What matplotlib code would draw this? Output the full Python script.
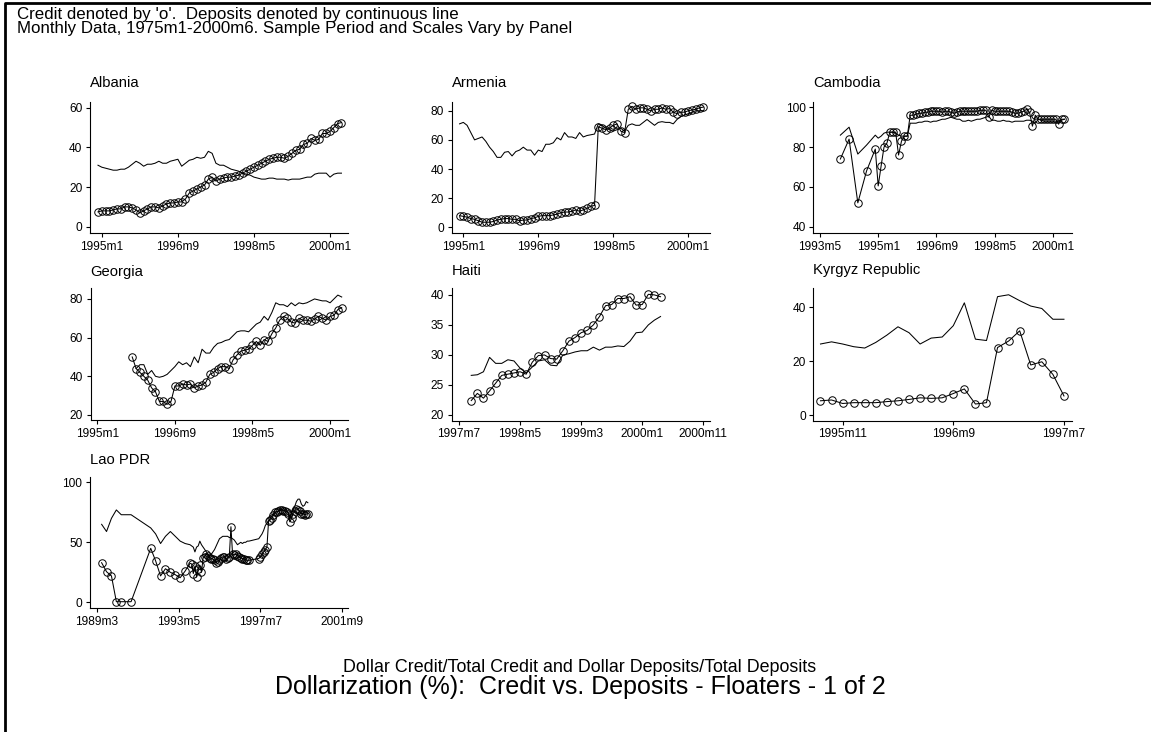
import numpy as np
import matplotlib.pyplot as plt
from matplotlib.lines import Line2D

plt.rcParams['font.family'] = ['Liberation Sans', 'DejaVu Sans']


def ym(s):
    y, m = s.split('m')
    return int(y) * 12 + int(m) - 1


def monthly(start, vals):
    x = np.arange(len(vals)) + ym(start)
    v = np.array([np.nan if a is None else a for a in vals], dtype=float)
    return x, v


# ---- data ----
alb_start = '1994m12'
alb_credit = [7.5,
              8, 8, 8, 8.5, 9, 9, 10, 10, 9.5, 8.5, 7, 8,
              9, 10, 10, 9.5, 10.5, 11.5, 12, 12, 12.5, 12.5, 14, 17,
              18, 19, 20, 21, 24, 25, 23, 24, 24.5, 25, 25, 25.5,
              26, 27, 28, 29, 30, 31, 32, 33, 34, 34.5, 35, 35,
              34.5, 35.5, 37, 38.5, 39, 41.5, 42, 44.5, 43.5, 44, 47, 47,
              48, 50, 52, 52.5]
alb_deposits = [31,
                30, 29.5, 29, 28.5, 28.5, 29, 29, 30, 31.5, 33, 32, 30.5,
                31.5, 31.5, 32, 33, 32, 32, 33, 33.5, 34, 30.5, 32, 33.5,
                34, 35, 34.5, 35, 38, 37, 32, 31, 31, 30, 29, 28.5,
                28, 27, 26.5, 26, 25, 24.5, 24, 24, 24.5, 24.5, 24, 24,
                24, 23.5, 24, 24, 24, 24.5, 25, 25, 26.5, 27, 27, 27,
                25, 26.5, 27, 27]

arm_start = '1994m12'
arm_credit = [8,
              7.5, 7, 6, 5.5, 4.5, 3.5, 3.5, 3.5, 4, 5, 5.5, 6,
              6, 5.5, 5.5, 4.5, 5, 5, 6, 6.5, 7.5, 8, 8, 8,
              8.5, 9, 10, 10.5, 10.5, 11, 12, 11, 12, 13, 14.5, 15,
              69, 68, 67, 68, 70, 71, 66, 65, 81, 83, 81, 82,
              82, 81, 80, 81, 81, 82, 81, 81.5, 79, 78, 79, 79,
              80, 80.5, 81, 82, 82.5]
arm_deposits = [71,
                72, 70, 65, 60, 61, 62, 59, 55, 52, 48, 48, 51.5,
                52, 49, 52, 53, 55, 53, 53, 49.5, 53, 52, 57, 57,
                58, 61.5, 60, 65, 62, 62, 61, 65, 62, 63, 63.5, 64,
                71, 70, 68, 67, 66, 67, 68, 66, 70, 71, 70, 70,
                72, 74, 72, 70, 72, 72.5, 72, 72, 71, 74, 76, 77,
                78, 79, 80, 80, 80]

cam_early_dates = ['1993m12', '1994m3', '1994m6', '1994m9', '1994m12']
cam_early_credit = [74, 84, 52, 68, 79]
cam_early_deposits = [86, 90, 76.5, 81, 86]
cam_start = '1995m1'
cam_credit = [60.5, 70.5, 80, 82, 87.5, 87.5, 87.5, 76, 83, 85.5, 85.5, 96,
              96, 96.5, 97, 97, 97.5, 97.5, 98, 98, 98, 98, 97.5, 98,
              98, 97.5, 97, 97.5, 98, 98, 98, 98, 98, 98, 98, 98.5,
              98.5, 98.5, 95, 98.5, 98, 98, 98, 98, 98, 98, 97.5, 97,
              97, 97.5, 98, 99, 97.5, 90.5, 96, 94, 94, 94, 94, 94,
              94, 94, 91.5, 94, 94]
cam_deposits = [84.5, 85.5, 87, 87.5, 87.5, 87.5, 87, 86, 85.5, 85.5, 85.5, 92,
                92, 92, 92.5, 92.5, 93, 93, 92.5, 93, 93, 93.5, 94, 94,
                94.5, 95, 94.5, 94, 94, 93, 93, 93.5, 93, 93.5, 94, 94,
                94.5, 95, 95.5, 93.5, 93.5, 93, 93, 93.5, 93, 93, 92.5, 93,
                93, 93, 93, 93.5, 93.5, 93, 92, 94, 93.5, 93, 93, 93,
                93, 93, 93, 93.5, 94]

geo_credit_start = '1995m10'
geo_credit = [50, 44, 42,
              40, 38, 34, 32, 27, 27, 25.5, 27, 35, 35, 36, 35.5,
              36, 34, 35, 35.5, 37, 41, 42, 44, 45, 45, 44, 48.5,
              51, 53, 53.5, 54, 56, 58, 56, 59, 58, 62, 65, 69,
              71, 70, 68, 67.5, 70, 69, 69, 68.5, 69.5, 71, 70, 69,
              71, 71.5, 74.5, 75.5]
geo_deposits_start = '1995m11'
geo_deposits = [44, 46,
                46, 41, 43, 40, 39.5, 40, 41, 43, 45, 47.5, 46, 47,
                45, 50, 47, 54, 52, 52, 55, 57, 57.5, 58.5, 59, 61,
                63, 63.5, 63.5, 63, 65, 67, 68, 71, 69, 73, 78, 77,
                77, 76, 78, 76.5, 78, 77.5, 78, 79, 80, 79.5, 79, 79,
                78, 80, 82, 81]

hai_start = '1997m9'
hai_credit = [22.4, 23.6, 22.8, 24, 25.3, 26.6, 26.8, 27, 27.2, 26.8, 28.8, 29.9,
              30, 29.4, 29.3, 30.7, 32.3, 32.9, 33.7, 34.1, 35, 36.4, 38.2, 38.4,
              39.4, 39.4, 39.7, 38.3, 38.4, 40.1, 40, 39.7]
hai_deposits = [26.6, 26.7, 27.2, 29.6, 28.6, 28.6, 29.2, 29.0, 27.8, 27.0, 28.0, 29.0,
                29.2, 28.3, 28.2, 30.0, 30.2, 30.5, 30.7, 30.7, 31.3, 30.8, 31.3, 31.3,
                31.5, 31.4, 32.3, 33.7, 33.8, 35.0, 35.8, 36.4]

kgz_start = '1995m9'
kgz_credit = [5.3, 5.6, 4.3, 4.6, 4.6, 4.6, 5.0, 5.3, 5.8, 6.4, 6.2, 6.4,
              8.0, 9.7, 4.1, 4.6, 25.1, 27.5, 31.3, 18.6, 19.8, 15.1, 7.1]
kgz_deposits = [26.4, 27.2, 26.4, 25.4, 24.9, 27.0, 29.7, 32.8, 30.6, 26.4, 28.6, 29.0,
                33.2, 41.7, 28.2, 27.7, 44.0, 44.7, 42.5, 40.5, 39.6, 35.6, 35.6]

lao_early_dates = ['1989m6', '1989m9', '1989m12', '1990m3', '1990m6', '1990m12',
                   '1991m12', '1992m3', '1992m6', '1992m9', '1992m12', '1993m3',
                   '1993m6', '1993m9', '1993m12']
lao_early_credit = [33, 25.5, 22, 0.5, 0.5, 0.5, 45, 34.5, 22, 28, 25, 23, 20.5, 26, 32.5]
lao_early_deposits = [65, 59, 70, 77, 73, 73, 62, 57, 49, 55, 59, 55, 51, 49, 48]
lao_start = '1994m1'
lao_credit = [32, 24, 30, 21, 28, 31, 25, 37, 38, 40, 39, 37,
              36.5, 36, 35, 33, 34, 35, 37, 38, 38, 36, 37, 38,
              63, 40, 39.5, 40, 39, 38, 37, 36.5, 36, 35.5, 35, 35,
              None, None, None, None, None, 36.5, 38, 40, 42, 44, 46, 68,
              68.5, 70, 73, 75, 75.5, 76, 77, 77, 76.5, 76, 75.5, 74,
              67, 70, 74, 76, 78, 77, 76, 74, 74, 73, 73.5, 74]
lao_deposits = [47, 46, 42, 46, 47, 51, 48, 46, 44, 42, 40, 39,
                40, 42, 44, 47, 50, 53, 54, 55, 55, 55, 55, 54,
                54, 53, 52, 50, 48, 49, 50, 49, 50, 50, 51, 51,
                None, None, None, None, None, 53, 55, 57, 60, 64, 66, 68,
                70, 72, 74, 75, 76, 76, 77, 77, 77, 77, 76, 75,
                70, 74, 77, 80, 84, 86, 86, 82, 80, 81, 84, 83]


def combine(early_dates, early_vals, start, vals):
    x0 = np.array([ym(d) for d in early_dates])
    x1, v1 = monthly(start, vals)
    return np.concatenate([x0, x1]), np.concatenate([np.array(early_vals, float), v1])


panels = [
    # name, credit (x, y), deposits (x, y), xticks, yticks, xlim, ylim, box px (l, r, t, b), title y px
    ('Albania', monthly(alb_start, alb_credit), monthly(alb_start, alb_deposits),
     ['1995m1', '1996m9', '1998m5', '2000m1'], [0, 20, 40, 60],
     ('1995m1', -3.1, 64.8), (-3.3, 63), (90, 348.3, 101.7, 233.3), 83),
    ('Armenia', monthly(arm_start, arm_credit), monthly(arm_start, arm_deposits),
     ['1995m1', '1996m9', '1998m5', '2000m1'], [0, 20, 40, 60, 80],
     ('1995m1', -3.1, 65.8), (-4.1, 86.2), (451.7, 710, 101.7, 233.3), 83),
    ('Cambodia', combine(cam_early_dates, cam_early_credit, cam_start, cam_credit),
     combine(cam_early_dates, cam_early_deposits, cam_start, cam_deposits),
     ['1993m5', '1995m1', '1996m9', '1998m5', '2000m1'], [40, 60, 80, 100],
     ('1993m5', -2.3, 86.5), (36.7, 102.8), (813.3, 1071.7, 101.7, 233.3), 83),
    ('Georgia', monthly(geo_credit_start, geo_credit), monthly(geo_deposits_start, geo_deposits),
     ['1995m1', '1996m9', '1998m5', '2000m1'], [20, 40, 60, 80],
     ('1995m1', -1.7, 64.7), (17.4, 85.5), (90.7, 348.3, 288.3, 420), 271.5),
    ('Haiti', monthly(hai_start, hai_credit), monthly(hai_start, hai_deposits),
     ['1997m7', '1998m5', '1999m3', '2000m1', '2000m11'], [20, 25, 30, 35, 40],
     ('1997m7', -1.2, 41.1), (19.05, 41.1), (451.7, 710, 288.3, 420.7), 271),
    ('Kyrgyz Republic', monthly(kgz_start, kgz_credit), monthly(kgz_start, kgz_deposits),
     ['1995m11', '1996m9', '1997m7'], [0, 20, 40],
     ('1995m11', -2.65, 20.7), (-2.1, 47.1), (813.3, 1071.7, 288.3, 420.7), 270),
    ('Lao PDR', combine(lao_early_dates, lao_early_credit, lao_start, lao_credit),
     combine(lao_early_dates, lao_early_deposits, lao_start, lao_deposits),
     ['1989m3', '1993m5', '1997m7', '2001m9'], [0, 50, 100],
     ('1989m3', -4.1, 153.7), (-5, 104.7), (90, 348.3, 476.7, 608.3), 460),
]

W, H = 1151, 732
fig = plt.figure(figsize=(W / 100, H / 100), dpi=100)
fig.patch.set_facecolor('white')

for name, cred, dep, xt, yt, xl, yl, box, ty in panels:
    l, r, t, b = box
    ax = fig.add_axes([l / W, 1 - b / H, (r - l) / W, (b - t) / H])
    dx, dy = dep
    ok = ~np.isnan(dy)
    ax.plot(dx[ok], dy[ok], color='black', lw=0.75)
    cx, cy = cred
    ok = ~np.isnan(cy)
    ax.plot(cx[ok], cy[ok], color='black', lw=0.75, marker='o', ms=5.4,
            mfc='none', mec='black', mew=0.7)
    base = ym(xl[0])
    ax.set_xlim(base + xl[1], base + xl[2])
    ax.set_ylim(*yl)
    ax.set_xticks([ym(s) for s in xt])
    ax.set_xticklabels(xt)
    ax.set_yticks(yt)
    for s in ['top', 'right']:
        ax.spines[s].set_visible(False)
    for s in ['left', 'bottom']:
        ax.spines[s].set_linewidth(0.8)
    ax.tick_params(direction='out', length=3, width=0.8, labelsize=8.6, pad=2.5)
    fig.text(l / W, 1 - ty / H, name, ha='left', va='center', fontsize=10.6)

fig.text(17 / W, 1 - 14 / H, "Credit denoted by 'o'.  Deposits denoted by continuous line",
         ha='left', va='center', fontsize=12.2)
fig.text(17 / W, 1 - 28 / H, "Monthly Data, 1975m1-2000m6. Sample Period and Scales Vary by Panel",
         ha='left', va='center', fontsize=12.2)
fig.text(580 / W, 1 - 667 / H,
         'Dollar Credit/Total Credit and Dollar Deposits/Total Deposits',
         ha='center', va='center', fontsize=12.9)
fig.text(580 / W, 1 - 687 / H,
         'Dollarization (%):  Credit vs. Deposits - Floaters - 1 of 2',
         ha='center', va='center', fontsize=18)

# outer frame (only left and top edges fall inside the image)
fig.add_artist(Line2D([5 / W, 5 / W, 1.0], [0.0, 1 - 2.5 / H, 1 - 2.5 / H],
                      transform=fig.transFigure, color='black', lw=2))

fig.savefig('out.png', dpi=100)
